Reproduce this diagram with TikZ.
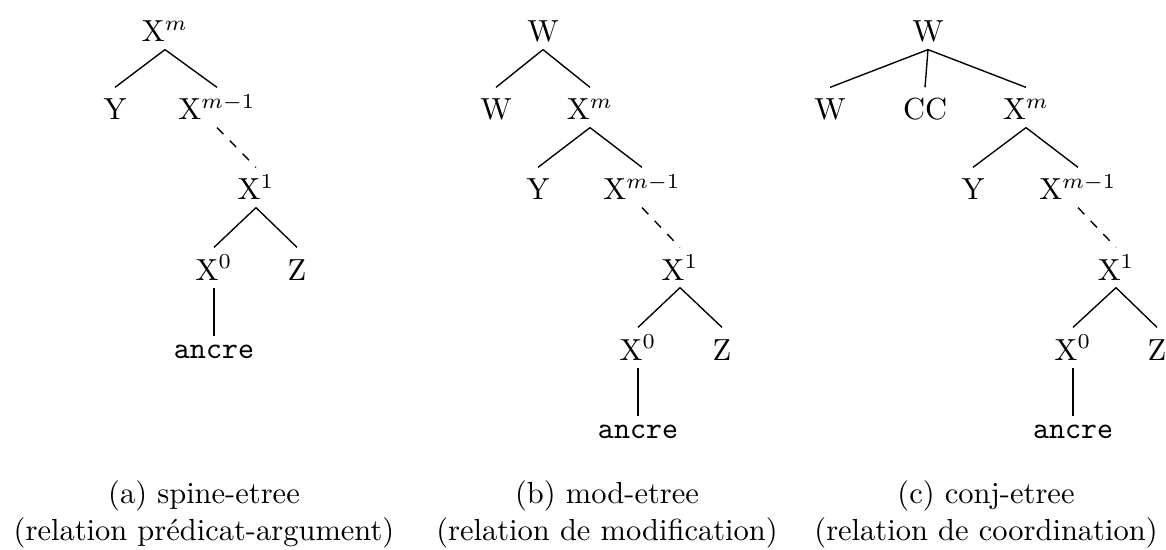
\documentclass[tikz,border=0pt]{standalone}
\usepackage{fontspec}
\begin{document}
\begin{tikzpicture}[x=0.328pt,y=-0.328pt,
  tn/.style={inner sep=0pt,text height=10.5pt,text depth=2.3pt,anchor=base},
  an/.style={inner sep=0pt,text height=7pt,text depth=0pt,anchor=base,font=\ttfamily},
  br/.style={line width=0.45pt},
  dbr/.style={br,dashed},
  captxt/.style={inner sep=0pt,anchor=base}]
\useasboundingbox (0,0) rectangle (1166,549);
% ---------- tree (a)
\node[tn] (aXm)  at (165,42)  {X$^{m}$};
\node[tn] (aY)   at (115,120) {Y};
\node[tn] (aXm1) at (217,120) {X$^{m-1}$};
\node[tn] (aX1)  at (256,200) {X$^{1}$};
\node[tn] (aX0)  at (214,280) {X$^{0}$};
\node[tn] (aZ)   at (297,280) {Z};
\node[an] (aan)  at (214,358) {ancre};
\draw[br] (aXm.south) -- (aY.north);
\draw[br] (aXm.south) -- (aXm1.north);
\draw[dbr] (aXm1.south) -- (aX1.north);
\draw[br] (aX1.south) -- (aX0.north);
\draw[br] (aX1.south) -- (aZ.north);
\draw[br] (aX0.south) -- (aan.north);
% ---------- tree (b)
\node[tn] (bW)   at (543,42)  {W};
\node[tn] (bW2)  at (496,120) {W};
\node[tn] (bXm)  at (590,120) {X$^{m}$};
\node[tn] (bY)   at (538,200) {Y};
\node[tn] (bXm1) at (642,200) {X$^{m-1}$};
\node[tn] (bX1)  at (680,280) {X$^{1}$};
\node[tn] (bX0)  at (638,360) {X$^{0}$};
\node[tn] (bZ)   at (722,360) {Z};
\node[an] (ban)  at (638,438) {ancre};
\draw[br] (bW.south) -- (bW2.north);
\draw[br] (bW.south) -- (bXm.north);
\draw[br] (bXm.south) -- (bY.north);
\draw[br] (bXm.south) -- (bXm1.north);
\draw[dbr] (bXm1.south) -- (bX1.north);
\draw[br] (bX1.south) -- (bX0.north);
\draw[br] (bX1.south) -- (bZ.north);
\draw[br] (bX0.south) -- (ban.north);
% ---------- tree (c)
\node[tn] (cW)   at (928,42)  {W};
\node[tn] (cW2)  at (830,120) {W};
\node[tn] (cCC)  at (925,120) {CC};
\node[tn] (cXm)  at (1026,120) {X$^{m}$};
\node[tn] (cY)   at (973,200) {Y};
\node[tn] (cXm1) at (1078,200) {X$^{m-1}$};
\node[tn] (cX1)  at (1116,280) {X$^{1}$};
\node[tn] (cX0)  at (1073,360) {X$^{0}$};
\node[tn] (cZ)   at (1157,360) {Z};
\node[an] (can)  at (1073,438) {ancre};
\draw[br] (cW.south) -- (cW2.north);
\draw[br] (cW.south) -- (cCC.north);
\draw[br] (cW.south) -- (cXm.north);
\draw[br] (cXm.south) -- (cY.north);
\draw[br] (cXm.south) -- (cXm1.north);
\draw[dbr] (cXm1.south) -- (cX1.north);
\draw[br] (cX1.south) -- (cX0.north);
\draw[br] (cX1.south) -- (cZ.north);
\draw[br] (cX0.south) -- (can.north);
% ---------- captions
\node[captxt] (capa1) at (204,503) {(a) spine-etree};
\node[captxt] (capa2) at (204,540) {(relation prédicat-argument)};
\node[captxt] (capb1) at (607,503) {(b) mod-etree};
\node[captxt] (capb2) at (607,540) {(relation de modification)};
\node[captxt] (capc1) at (986,503) {(c) conj-etree};
\node[captxt] (capc2) at (986,540) {(relation de coordination)};
\end{tikzpicture}
\end{document}
